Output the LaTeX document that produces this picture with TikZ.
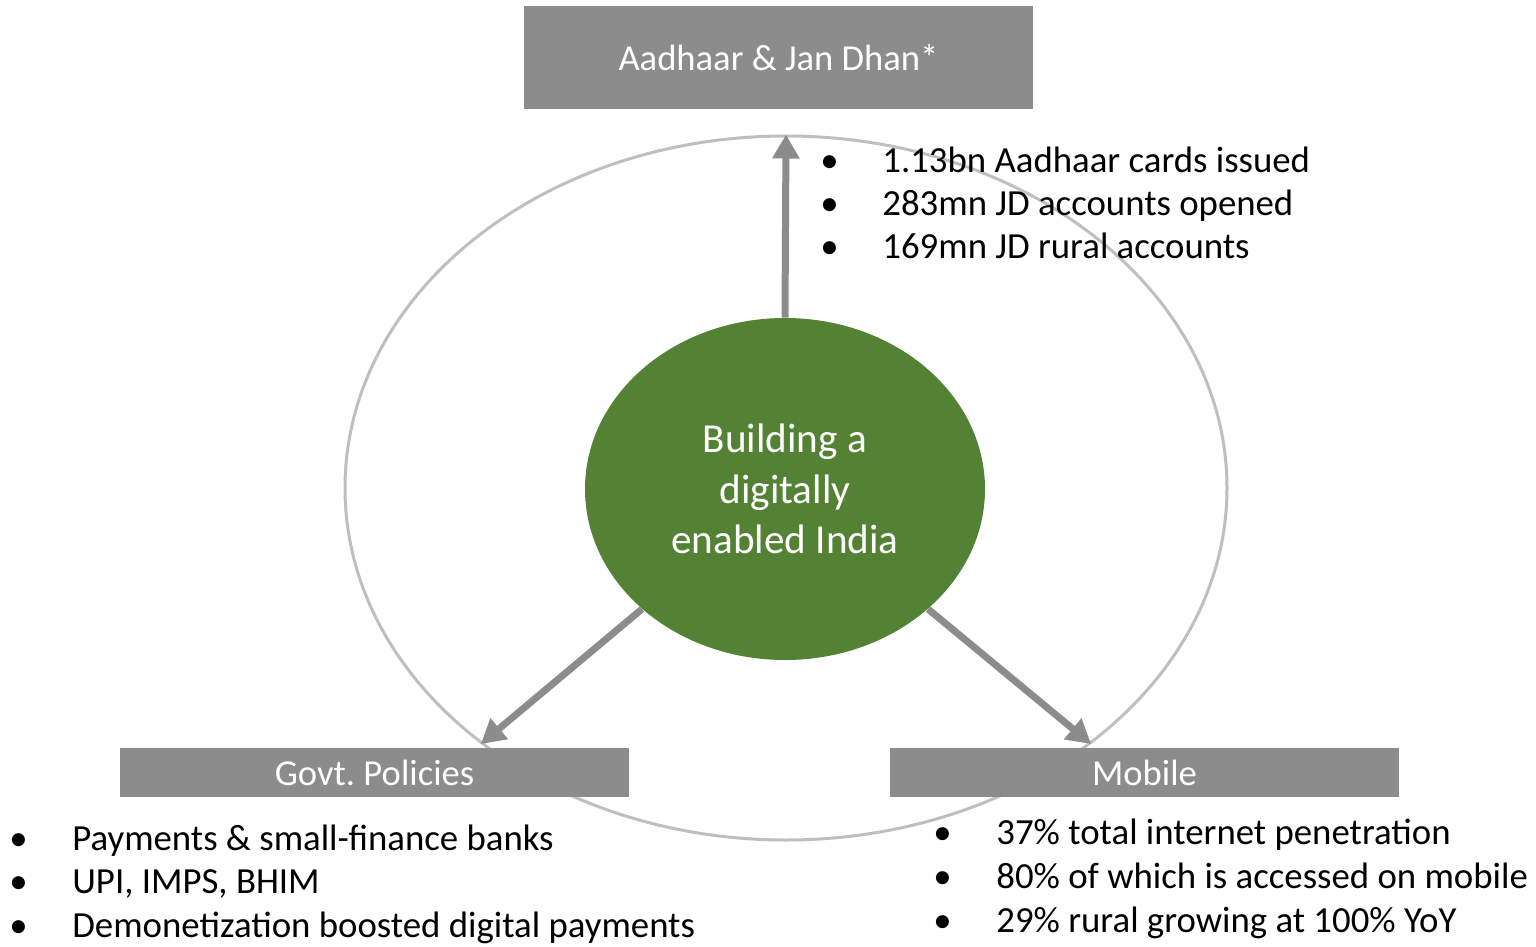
\documentclass[tikz,border=0pt]{standalone}
\usepackage{fontspec}
\setmainfont{Carlito}
\frenchspacing
\usetikzlibrary{arrows.meta,shapes.geometric}
\definecolor{boxgray}{HTML}{8C8C8C}
\definecolor{ringgray}{HTML}{BFBFBF}
\definecolor{leaf}{HTML}{548235}
\begin{document}
\begin{tikzpicture}[x=0.5pt,y=-0.5pt,
  labelbox/.style={fill=boxgray, inner sep=0, text=white, minimum width=254.5pt,
    font=\fontsize{18.3}{22}\selectfont},
  flow/.style={draw=boxgray, line width=3.5pt, -{Triangle[width=13pt,length=12pt]}},
  item/.style={inner sep=0, anchor=base west, font=\fontsize{18.4}{22}\selectfont}]
\useasboundingbox (0,0) rectangle (1536,947);

% outer cycle
\node[draw=ringgray, line width=1.5pt, ellipse, inner sep=0,
      minimum width=441pt, minimum height=352pt] (ring) at (786,488) {};

% three pillars
\node[labelbox, minimum height=51.5pt] (aadhaar) at (778.5,57.5) {Aadhaar \& Jan Dhan*};
\node[labelbox, minimum height=24.5pt] (govt) at (374.5,772.5) {Govt. Policies};
\node[labelbox, minimum height=24.5pt] (mobile) at (1144.5,772.5) {Mobile};

% centre
\node[ellipse, fill=leaf, inner sep=0, minimum width=200pt, minimum height=171pt,
      text=white, align=center, font=\fontsize{20.6}{25.25}\selectfont] (core) at (785,489)
      {Building a\\digitally\\enabled India};

% arrows out of the centre
\draw[flow] (core.north) -- (ring.north);
\draw[flow] (core.220) -- (ring.220);
\draw[flow] (core.320) -- (ring.320);

% bullet lists
\foreach \t [count=\i from 0] in {1.13bn Aadhaar cards issued, 283mn JD accounts opened, 169mn JD rural accounts}
  \node[item, name=aj\i] at (820,{172+43*\i}) {\makebox[31pt][l]{•}\t};
\foreach \t [count=\i from 0] in {Payments \& small-finance banks, {UPI, IMPS, BHIM}, Demonetization boosted digital payments}
  \node[item, name=gp\i] at (9,{850+43.5*\i}) {\makebox[31.5pt][l]{•}\t};
\foreach \t [count=\i from 0] in {37\% total internet penetration, 80\% of which is accessed on mobile, 29\% rural growing at 100\% YoY}
  \node[item, name=mb\i] at (933,{844+44*\i}) {\makebox[31.5pt][l]{•}\t};
\end{tikzpicture}
\end{document}
